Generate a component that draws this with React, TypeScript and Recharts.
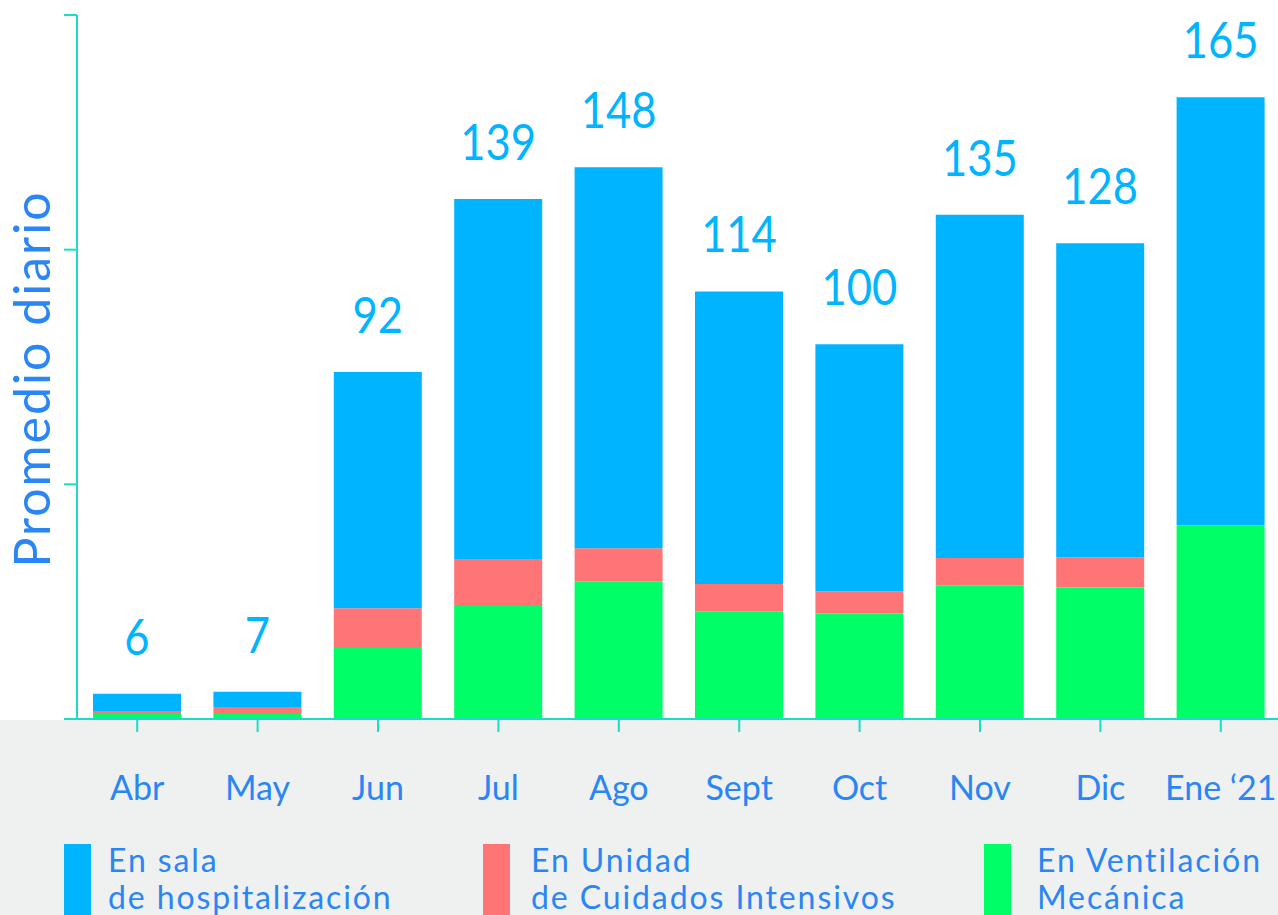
import React from 'react';
import { BarChart, Bar, XAxis, YAxis, Legend, LabelList } from 'recharts';

const months = ['Abr', 'May', 'Jun', 'Jul', 'Ago', 'Sept', 'Oct', 'Nov', 'Dic', 'Ene \u201821'];
const sala = [4.8, 4.0, 62.6, 95.7, 101.0, 77.6, 65.5, 91.0, 83.3, 113.5];
const uci = [0.3, 1.9, 10.6, 12.2, 8.8, 7.2, 5.9, 7.2, 8.0, 0];
const ventilacion = [1.6, 1.3, 18.8, 30.0, 36.5, 28.6, 28.0, 35.5, 34.9, 51.4];
const totals = [6, 7, 92, 139, 148, 114, 100, 135, 128, 165];

const seriesNames = ['En sala\nde hospitalización', 'En Unidad\nde Cuidados Intensivos', 'En Ventilación\nMecánica'];

const Y_MAX = 186.7;
const yTicks = [0, Y_MAX / 3, (2 * Y_MAX) / 3, Y_MAX];

const data = months.map((m, i) => ({
  month: m,
  sala: sala[i],
  uci: uci[i],
  ventilacion: ventilacion[i],
  total: totals[i],
}));

const BLUE = '#00b4ff';
const RED = '#ff7575';
const GREEN = '#00ff66';
const TEXT = '#2a85f5';
const AXIS = '#1cdcc6';
const FONT = "Lato, 'Noto Sans', sans-serif";

const TotalLabel = (props: any) => {
  const { x, y, width, index } = props;
  const cx = x + width / 2;
  const s = 0.87;
  return (
    <text
      x={cx / s}
      y={y - 39}
      transform={`scale(${s},1)`}
      textAnchor="middle"
      fill={BLUE}
      fontSize={50}
      fontFamily={FONT}
    >
      {totals[index]}
    </text>
  );
};

const YLabel = () => (
  <text
    x={50}
    y={379}
    transform="rotate(-90, 50, 379)"
    textAnchor="middle"
    fill={TEXT}
    fontSize={50}
    fontFamily={FONT}
    letterSpacing={2}
  >
    Promedio diario
  </text>
);

const legendItems = [
  { name: seriesNames[0], color: BLUE, left: 64, textGap: 44 },
  { name: seriesNames[1], color: RED, left: 483, textGap: 48 },
  { name: seriesNames[2], color: GREEN, left: 984, textGap: 53 },
];

const LegendContent = () => (
  <div style={{ position: 'relative', width: 1281, height: 75 }}>
    {legendItems.map((it) => (
      <div key={it.name} style={{ position: 'absolute', left: it.left, top: 0 }}>
        <div style={{ position: 'absolute', left: 0, top: 4, width: 27, height: 80, background: it.color }} />
        <div
          style={{
            position: 'absolute',
            left: it.textGap,
            top: 1,
            whiteSpace: 'pre',
            fontFamily: FONT,
            fontSize: 32,
            letterSpacing: '1.9px',
            lineHeight: '37px',
            color: TEXT,
          }}
        >
          {it.name}
        </div>
      </div>
    ))}
  </div>
);

export default function App() {
  return (
    <div
      style={{
        position: 'absolute',
        left: 0,
        top: 0,
        width: 1278,
        height: 915,
        overflow: 'hidden',
        background: 'linear-gradient(to bottom, #ffffff 0px, #ffffff 720px, #eff1f0 720px, #eff1f0 915px)',
      }}
    >
      <BarChart width={1281} height={915} data={data} margin={{ top: 15, right: 0, bottom: 0, left: 0 }}>
        <XAxis
          dataKey="month"
          interval={0}
          height={196}
          tickSize={13}
          tickMargin={44}
          axisLine={{ stroke: AXIS, strokeWidth: 2 }}
          tickLine={{ stroke: AXIS, strokeWidth: 2 }}
          tick={{ fill: TEXT, fontSize: 34, fontFamily: FONT }}
        />
        <YAxis
          width={77}
          domain={[0, Y_MAX]}
          ticks={yTicks}
          tickFormatter={() => ''}
          tickSize={13}
          axisLine={{ stroke: AXIS, strokeWidth: 2 }}
          tickLine={{ stroke: AXIS, strokeWidth: 2 }}
          label={<YLabel />}
        />
        <Legend
          layout="horizontal"
          verticalAlign="middle"
          align="center"
          content={<LegendContent />}
          wrapperStyle={{ top: 840, left: 0, width: 1281, height: 75 }}
        />
        <Bar dataKey="ventilacion" stackId="a" fill={GREEN} barSize={88} isAnimationActive={false} />
        <Bar dataKey="uci" stackId="a" fill={RED} barSize={88} isAnimationActive={false} />
        <Bar dataKey="sala" stackId="a" fill={BLUE} barSize={88} isAnimationActive={false}>
          <LabelList dataKey="total" content={<TotalLabel />} />
        </Bar>
      </BarChart>
    </div>
  );
}
